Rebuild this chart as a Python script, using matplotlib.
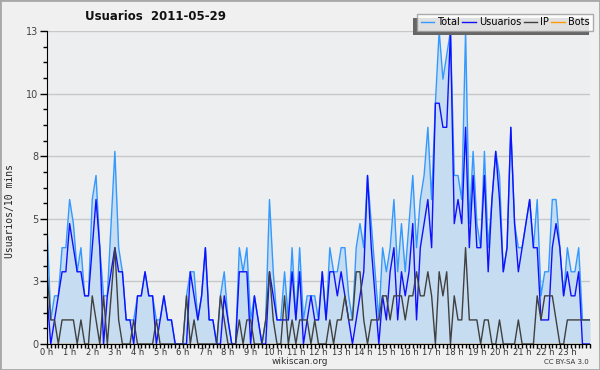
import numpy as np
import matplotlib
matplotlib.use("Agg")
import matplotlib.pyplot as plt
from matplotlib.patches import Rectangle
from matplotlib.ticker import FixedLocator, MultipleLocator

# ====================== DATA (10 min steps, 2011-05-29) ======================
total = [5, 1, 2, 2, 4, 4, 6, 5, 3, 4, 2, 2, 6, 7, 4, 2, 2, 5, 8, 4,
         3, 1, 1, 1, 2, 2, 3, 2, 2, 1, 1, 2, 1, 1, 0, 0, 0, 2, 3, 3,
         1, 2, 4, 1, 1, 0, 2, 3, 1, 0, 0, 4, 3, 4, 1, 2, 1, 0, 1, 6,
         3, 1, 1, 3, 1, 4, 1, 4, 1, 2, 2, 2, 1, 3, 1, 4, 3, 3, 4, 4,
         2, 1, 4, 5, 4, 7, 5, 3, 1, 4, 3, 4, 6, 3, 5, 3, 5, 7, 4, 6,
         7, 9, 6, 10, 13, 11, 12, 13, 7, 7, 6, 13, 5, 8, 5, 4, 8, 4, 6, 8,
         7, 3, 4, 9, 5, 4, 4, 5, 6, 4, 6, 2, 3, 3, 6, 6, 4, 2, 4, 3,
         3, 4, 1, 1, 1]
usuarios = [2, 0, 1, 2, 3, 3, 5, 4, 3, 3, 2, 2, 4, 6, 4, 0, 2, 3, 4, 3,
            3, 1, 1, 0, 2, 2, 3, 2, 2, 0, 1, 2, 1, 1, 0, 0, 0, 0, 3, 2,
            1, 2, 4, 1, 1, 0, 0, 2, 1, 0, 0, 3, 3, 3, 0, 2, 1, 0, 0, 3,
            2, 1, 1, 1, 1, 3, 1, 3, 0, 1, 2, 1, 1, 3, 1, 3, 3, 2, 3, 2,
            1, 0, 1, 2, 3, 7, 4, 2, 0, 2, 1, 3, 4, 1, 3, 2, 3, 5, 1, 4,
            5, 6, 4, 10, 10, 9, 9, 13, 5, 6, 5, 9, 4, 7, 4, 4, 7, 3, 6, 8,
            6, 3, 4, 9, 5, 3, 4, 5, 6, 4, 4, 1, 1, 1, 4, 5, 4, 2, 3, 2,
            2, 3, 0, 0, 0]
ip = [3, 1, 1, 0, 1, 1, 1, 1, 0, 1, 0, 0, 2, 1, 0, 2, 0, 2, 4, 1,
      0, 0, 0, 1, 0, 0, 0, 0, 0, 1, 0, 0, 0, 0, 0, 0, 0, 2, 0, 1,
      0, 0, 0, 0, 0, 0, 2, 1, 0, 0, 0, 1, 0, 1, 1, 0, 0, 0, 1, 3,
      1, 0, 0, 2, 0, 1, 0, 1, 1, 1, 0, 1, 0, 0, 0, 1, 0, 1, 1, 2,
      1, 1, 3, 3, 1, 0, 1, 1, 1, 2, 2, 1, 2, 2, 2, 1, 2, 2, 3, 2,
      2, 3, 2, 0, 3, 2, 3, 0, 2, 1, 1, 4, 1, 1, 1, 0, 1, 1, 0, 0,
      1, 0, 0, 0, 0, 1, 0, 0, 0, 0, 2, 1, 2, 2, 2, 1, 0, 0, 1, 1,
      1, 1, 1, 1, 1]
bots = [0] * len(total)
hours = np.arange(len(total)) / 6.0

y_max = 13
y_ticks = [0, 2.6, 5.2, 7.8, 10.4, 13]
y_labels = ["0", "3", "5", "8", "10", "13"]
x_labels = [f"{h} h" for h in range(24)]

# ====================== FIGURE ======================
W, H = 600, 370
fig = plt.figure(figsize=(W / 100, H / 100), dpi=100, facecolor="#f0f0f0")
fig.patches.append(Rectangle((0, 0), 1, 1, transform=fig.transFigure,
                             fill=False, edgecolor="#a8a8a8", linewidth=2))

ax = fig.add_axes([47 / W, 1 - 344 / H, (590 - 47) / W, (344 - 31) / H])
ax.set_facecolor("#edeef0")

ax.fill_between(hours, total, 0, color="#c6dcf0", linewidth=0, zorder=1)
ax.plot(hours, bots, color="#ff9900", lw=1, zorder=2)
ax.plot(hours, total, color="#3399ff", lw=1, zorder=3, label="Total")
ax.plot(hours, usuarios, color="#1010ff", lw=1, zorder=4, label="Usuarios")
ax.plot(hours, ip, color="#404040", lw=1, zorder=5, label="IP")
ax.plot([], [], color="#ff9900", lw=1, label="Bots")

ax.set_xlim(0, 24)
ax.set_ylim(0, y_max)

for spine in ("top", "right"):
    ax.spines[spine].set_visible(False)
ax.spines["left"].set_color("black")
ax.spines["bottom"].set_color("black")
ax.spines["left"].set_zorder(6)
ax.spines["bottom"].set_zorder(6)

ax.yaxis.set_major_locator(FixedLocator(y_ticks))
ax.set_yticklabels(y_labels)
ax.yaxis.set_minor_locator(MultipleLocator(0.65))
ax.xaxis.set_major_locator(FixedLocator(range(24)))
ax.set_xticklabels(x_labels)
ax.xaxis.set_minor_locator(MultipleLocator(1 / 6))

ax.tick_params(axis="y", which="major", length=5, width=1, direction="out",
               labelsize=7, labelcolor="#444444", pad=1)
ax.tick_params(axis="y", which="minor", length=3, width=1, direction="out")
ax.tick_params(axis="x", which="major", length=3, width=1, direction="out",
               labelsize=6, labelcolor="#333333", pad=0)
ax.tick_params(axis="x", which="minor", length=3, width=1, direction="out")

for yv in y_ticks[1:]:
    ax.axhline(yv, color="#c8c8c8", lw=1, zorder=0.5)

fig.text(85 / W, 1 - 17 / H, "Usuarios  2011-05-29", fontsize=8.5,
         fontweight="bold", ha="left", va="center", color="#111111")
fig.text(10 / W, 1 - 211 / H, "Usuarios/10 mins", rotation=90,
         family="DejaVu Sans Mono", fontsize=7, ha="center", va="center",
         color="#222222")
fig.text(300 / W, 1 - 362 / H, "wikiscan.org", fontsize=6.5, ha="center",
         va="center", color="#333333")
fig.text(589 / W, 1 - 362 / H, "CC BY-SA 3.0", fontsize=5, ha="right",
         va="center", color="#333333")

leg = ax.legend(loc="upper right", bbox_to_anchor=(593 / W, 1 - 14 / H),
                bbox_transform=fig.transFigure, ncol=4, fontsize=7,
                handlelength=1.4, handletextpad=0.3, columnspacing=0.25,
                borderpad=0.35, borderaxespad=0, frameon=True, fancybox=False)
leg.get_frame().set_facecolor("white")
leg.get_frame().set_edgecolor("#999999")
leg.get_frame().set_linewidth(1)
leg.set_zorder(10)

# shadow offset to lower-left, as in the reference
fig.canvas.draw()
bb = leg.get_window_extent()
shadow = Rectangle((bb.x0 - 4, bb.y0 - 4), bb.width, bb.height, transform=None,
                   facecolor="#666666", edgecolor="none", zorder=9,
                   clip_on=False)
ax.add_artist(shadow)

fig.savefig("out.png", dpi=100, facecolor=fig.get_facecolor())
